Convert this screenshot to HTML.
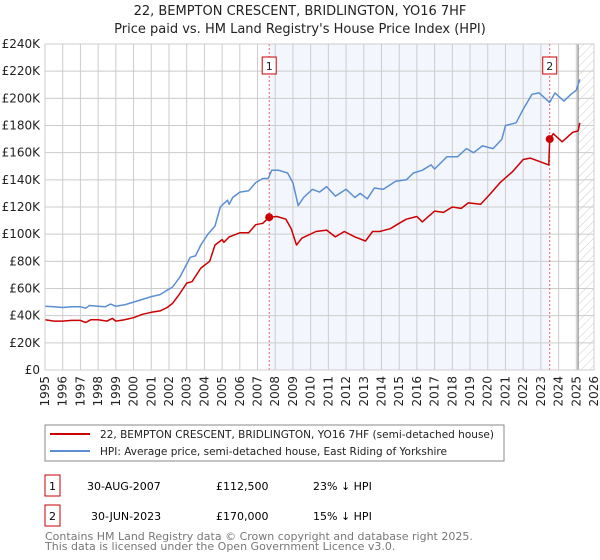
<!DOCTYPE html>
<html><head><meta charset="utf-8"><style>
body{margin:0;background:#fff}
svg{display:block;font-family:"DejaVu Sans","Liberation Sans",sans-serif}
</style></head><body>
<svg id="c" width="600" height="560" viewBox="0 0 600 560">
<defs><pattern id="hatch" width="6" height="6" patternUnits="userSpaceOnUse" patternTransform="rotate(45)"><line x1="0" y1="0" x2="0" y2="6" stroke="#ccc" stroke-width="1"/></pattern></defs>
<text x="300" y="15" text-anchor="middle" font-size="13" fill="#222">22, BEMPTON CRESCENT, BRIDLINGTON, YO16 7HF</text>
<text x="300" y="33" text-anchor="middle" font-size="13" fill="#222">Price paid vs. HM Land Registry's House Price Index (HPI)</text>
<g id="plot"></g>
<rect x="45" y="425" width="459" height="36" fill="#fff" stroke="#888"/>
<line x1="50" y1="434" x2="90" y2="434" stroke="#cc0000" stroke-width="2"/>
<text x="100" y="438" font-size="11" fill="#222" textLength="394" lengthAdjust="spacingAndGlyphs">22, BEMPTON CRESCENT, BRIDLINGTON, YO16 7HF (semi-detached house)</text>
<line x1="50" y1="451" x2="90" y2="451" stroke="#5b8fd4" stroke-width="2"/>
<text x="100" y="455" font-size="11" fill="#222" textLength="347" lengthAdjust="spacingAndGlyphs">HPI: Average price, semi-detached house, East Riding of Yorkshire</text>
<rect x="45" y="475" width="15" height="21" fill="#fff" stroke="#cc0000"/>
<text x="52.5" y="490" text-anchor="middle" font-size="11">1</text>
<text x="87" y="490" font-size="11">30-AUG-2007</text>
<text x="216" y="490" font-size="11">£112,500</text>
<text x="313" y="490" font-size="11">23% ↓ HPI</text>
<rect x="45" y="505" width="15" height="21" fill="#fff" stroke="#cc0000"/>
<text x="52.5" y="520" text-anchor="middle" font-size="11">2</text>
<text x="91" y="520" font-size="11">30-JUN-2023</text>
<text x="216" y="520" font-size="11">£170,000</text>
<text x="313" y="520" font-size="11">15% ↓ HPI</text>
<text x="45" y="540" font-size="11" fill="#777">Contains HM Land Registry data © Crown copyright and database right 2025.</text>
<text x="45" y="550" font-size="11" fill="#777">This data is licensed under the Open Government Licence v3.0.</text>
</svg>
<script>
const hpiYears=[1995.0,1995.5,1996.0,1996.5,1997.0,1997.3,1997.5,1998.0,1998.4,1998.7,1999.0,1999.5,2000.0,2000.5,2001.0,2001.5,2001.8,2002.2,2002.6,2003.0,2003.2,2003.5,2003.8,2004.2,2004.6,2004.9,2005.3,2005.4,2005.6,2006.0,2006.5,2006.9,2007.3,2007.6,2007.8,2008.2,2008.7,2009.0,2009.3,2009.6,2010.1,2010.5,2010.9,2011.4,2012.0,2012.5,2012.8,2013.2,2013.6,2014.1,2014.8,2015.4,2015.8,2016.3,2016.8,2017.0,2017.7,2018.3,2018.8,2019.2,2019.7,2020.3,2020.8,2021.0,2021.6,2022.0,2022.5,2022.9,2023.5,2023.8,2024.3,2024.7,2025.0,2025.2];
const hpiValues=[47,46.5,46,46.5,46.5,45.5,47.5,47,46.5,48.5,47,48,50,52,54,55.5,58,61,68,78,83,84,92,100,106,120,125,122,127,131,132,138,141,141,147,147,145,138,121,127,133,131,135,128,133,127,130,126,134,133,139,140,145,147,151,148,157,157,163,160,165,163,170,180,182,192,203,204,197,204,198,203,206,214];
const priceYears=[1995.0,1995.5,1996.0,1996.5,1997.0,1997.3,1997.6,1998.0,1998.5,1998.8,1999.0,1999.5,2000.0,2000.5,2001.0,2001.5,2001.9,2002.2,2002.6,2003.0,2003.3,2003.8,2004.3,2004.6,2005.0,2005.1,2005.4,2006.0,2006.5,2006.9,2007.3,2007.66,2008.1,2008.6,2008.9,2009.2,2009.5,2010.3,2010.9,2011.4,2011.9,2012.5,2013.1,2013.5,2013.9,2014.5,2015.0,2015.4,2016.0,2016.3,2017.0,2017.5,2018.0,2018.5,2018.9,2019.6,2020.1,2020.7,2021.4,2022.0,2022.4,2023.45,2023.5,2023.7,2024.2,2024.8,2025.1,2025.2];
const priceValues=[37,36,36,36.5,36.5,35,37,37,36,38,36,37,38.5,41,42.5,43.5,46,49,56,64,65,75,80,92,96,94,98,101,101,107,108,112.5,113,111,104,92,97,102,103,98,102,98,95,102,102,104,108,111,113,109,117,116,120,119,123,122,129,138,146,155,156,151,170,174,168,175,176,182];
const saleYears=[2007.66,2023.5];
const saleValues=[112.5,170];
const saleLabels=["1","2"];
const yTicks=[0,20,40,60,80,100,120,140,160,180,200,220,240];
const xTicks=[1995,1996,1997,1998,1999,2000,2001,2002,2003,2004,2005,2006,2007,2008,2009,2010,2011,2012,2013,2014,2015,2016,2017,2018,2019,2020,2021,2022,2023,2024,2025,2026];
const X0=45,X1=594,Y0=370,Y1=44,YR0=1995,YR1=2026,VMAX=240;
const NS="http://www.w3.org/2000/svg";
const xs=y=>X0+(y-YR0)/(YR1-YR0)*(X1-X0);
const ys=v=>Y0-v/VMAX*(Y0-Y1);
const g=document.getElementById('plot');
function mk(t,a){const e=document.createElementNS(NS,t);for(const k in a)e.setAttribute(k,a[k]);g.appendChild(e);return e;}
let e;
e=mk('rect',{x:xs(saleYears[0]),y:Y1,width:xs(saleYears[1])-xs(saleYears[0]),height:Y0-Y1,fill:'#eef2fc',opacity:0.7});


e=mk('rect',{x:xs(2025.1),y:Y1,width:X1-xs(2025.1),height:Y0-Y1,fill:'url(#hatch)'});


yTicks.forEach(v=>{
 e=mk('line',{x1:X0,x2:X1,y1:ys(v),y2:ys(v),stroke:'#ccc','stroke-width':1});
 
 
 e=mk('text',{x:X0-5,y:ys(v)+4,'text-anchor':'end','font-size':12,fill:'#222'});
 e.textContent=v===0?'£0':'£'+v+'K';
 
 
});
xTicks.forEach(y=>{
 e=mk('line',{x1:xs(y),x2:xs(y),y1:Y1,y2:Y0,stroke:'#ccc','stroke-width':1});
 
 
 e=mk('text',{x:0,y:0,'text-anchor':'end','font-size':12,fill:'#222',transform:`translate(${xs(y)+4},${Y0+6}) rotate(-90)`});
 e.textContent=y;
 
 
});
e=mk('line',{x1:xs(2025.1),x2:xs(2025.1),y1:Y1,y2:Y0,stroke:'#888','stroke-width':1.2});


saleYears.forEach((y,i)=>{
 e=mk('line',{x1:xs(y),x2:xs(y),y1:Y1,y2:Y0,stroke:'#f06060','stroke-width':1,'stroke-dasharray':'2,2'});
 
 
 e=mk('rect',{x:xs(y)-7,y:57,width:14,height:17,fill:'#fff',stroke:'#cc0000'});
 
 
 e=mk('text',{x:xs(y),y:70,'text-anchor':'middle','font-size':11,fill:'#222'});
 e.textContent=saleLabels[i];
 
 
});
function path(ys_,vs,col,name){
 const d=ys_.map((y,i)=>(i?'L':'M')+xs(y).toFixed(1)+','+ys(vs[i]).toFixed(1)).join('');
 e=mk('path',{d:d,fill:'none',stroke:col,'stroke-width':1.5,'stroke-linejoin':'round'});
 
 
}
path(hpiYears,hpiValues,'#5b8fd4','hpi-line');
path(priceYears,priceValues,'#cc0000','price-paid-line');
saleYears.forEach((y,i)=>{
 e=mk('circle',{cx:xs(y),cy:ys(saleValues[i]),r:4,fill:'#cc0000'});
 
 
});
e=mk('rect',{x:X0,y:Y1,width:X1-X0,height:Y0-Y1,fill:'none',stroke:'#ccc'});


</script>
</body></html>
